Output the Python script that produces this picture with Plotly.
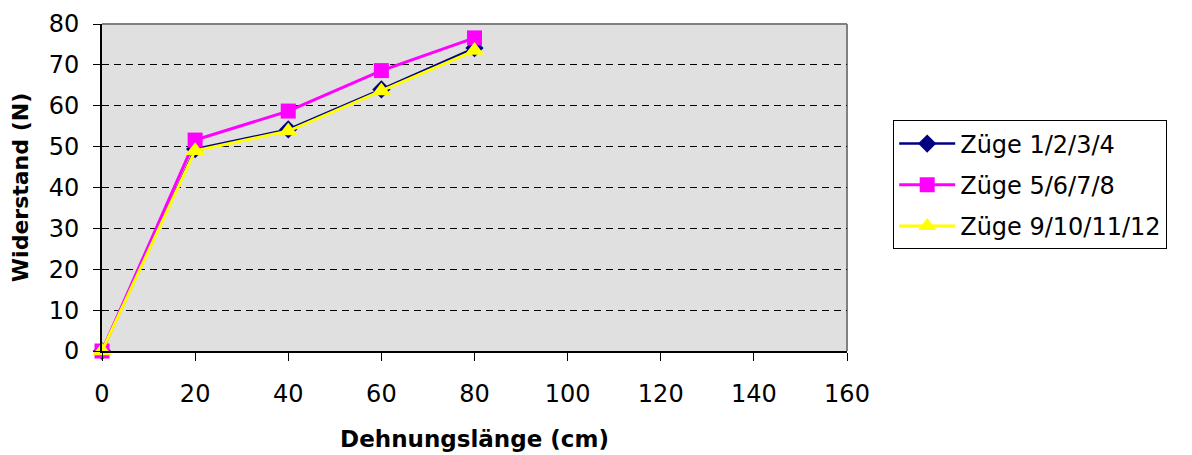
import plotly.graph_objects as go

x_vals = [0, 20, 40, 60, 80]
series_names = ["Züge 1/2/3/4", "Züge 5/6/7/8", "Züge 9/10/11/12"]
s1 = [0, 49.4, 54.2, 64.0, 74.1]
s2 = [0, 51.6, 58.7, 68.6, 76.6]
s3 = [0, 49.0, 53.8, 63.6, 73.5]

FONT = "DejaVu Sans, Arial, sans-serif"

fig = go.Figure()
fig.add_trace(go.Scatter(x=x_vals, y=s1, name=series_names[0], mode="lines+markers",
                         legendgroup="a", cliponaxis=False,
                         line=dict(color="#000080", width=2.5),
                         marker=dict(symbol="diamond", size=14, color="#000080")))
fig.add_trace(go.Scatter(x=x_vals, y=s2, name=series_names[1], mode="lines+markers",
                         legendgroup="b", cliponaxis=False,
                         line=dict(color="#FF00FF", width=3),
                         marker=dict(symbol="square", size=15, color="#FF00FF")))
fig.add_trace(go.Scatter(x=x_vals, y=s3, name=series_names[2], mode="lines+markers",
                         legendgroup="c", cliponaxis=False,
                         line=dict(color="#FFFF00", width=3),
                         marker=dict(symbol="triangle-up", size=17, color="#FFFF00")))

# page body has an 8px margin: shrink the figure so it fits the 1192x455 window
fig.update_layout(
    width=1184, height=447,
    margin=dict(l=94, r=345, t=16, b=104, autoexpand=False),
    paper_bgcolor="white",
    plot_bgcolor="#E0E0E0",
    font=dict(family=FONT, size=24, color="black"),
    showlegend=True,
    legend=dict(x=1.062, y=0.705, xanchor="left", yanchor="top",
                bordercolor="black", borderwidth=1, bgcolor="white",
                font=dict(size=24), tracegroupgap=7, traceorder="grouped",
                itemwidth=56),
)
fig.update_xaxes(range=[0, 160], dtick=20, tick0=0, automargin=False,
                 showgrid=False, zeroline=False,
                 showline=True, linecolor="black", linewidth=2,
                 ticks="outside", ticklen=8, tickcolor="black", tickwidth=1,
                 ticklabelstandoff=12,
                 title=dict(text="<b>Dehnungslänge (cm)</b>", font=dict(size=23), standoff=24))
fig.update_yaxes(range=[0, 80], dtick=10, tick0=0, automargin=False,
                 showgrid=True, gridcolor="black", griddash="7px,5px", gridwidth=1,
                 zeroline=False,
                 showline=True, linecolor="black", linewidth=2,
                 ticks="outside", ticklen=7, tickcolor="black", tickwidth=1,
                 ticklabelstandoff=9,
                 title=dict(text="<b>Widerstand (N)</b>", font=dict(size=22), standoff=16))

# gray frame on top/right
fig.add_shape(type="line", xref="paper", yref="paper", x0=0, y0=1, x1=1, y1=1,
              line=dict(color="#808080", width=2), layer="below")
fig.add_shape(type="line", xref="paper", yref="paper", x0=1, y0=0, x1=1, y1=1,
              line=dict(color="#808080", width=2), layer="below")

fig.write_html("out.html")
